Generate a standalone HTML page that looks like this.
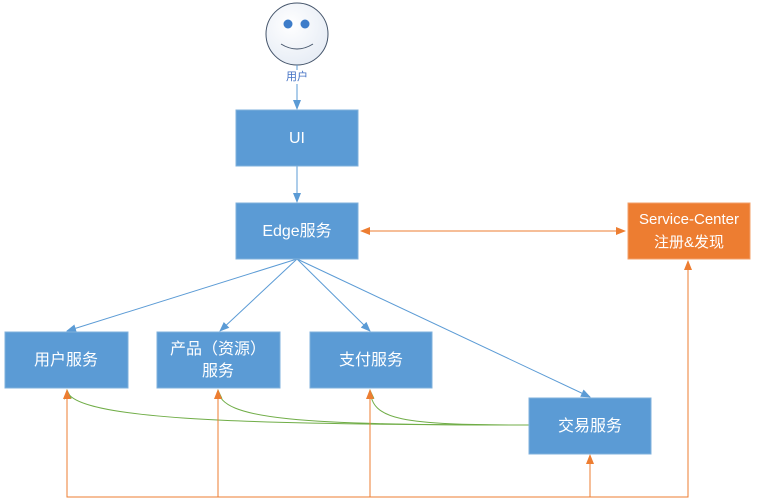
<!DOCTYPE html>
<html><head><meta charset="utf-8"><style>
body{margin:0;background:#fff;width:757px;height:499px;overflow:hidden;font-family:"Liberation Sans","Noto Sans CJK SC",sans-serif}
</style></head><body>
<svg width="757" height="499" xmlns="http://www.w3.org/2000/svg" style="position:absolute;left:0;top:0">
<defs>
<marker id="ab" markerWidth="10" markerHeight="8" refX="9" refY="4" orient="auto" markerUnits="userSpaceOnUse"><path d="M0,0L10,4L0,8z" fill="#5B9BD5"/></marker>
<marker id="ao" markerWidth="10" markerHeight="8" refX="9" refY="4" orient="auto" markerUnits="userSpaceOnUse"><path d="M0,0L10,4L0,8z" fill="#ED7D31"/></marker>
<marker id="aos" markerWidth="10" markerHeight="8" refX="1" refY="4" orient="auto" markerUnits="userSpaceOnUse"><path d="M10,0L0,4L10,8z" fill="#ED7D31"/></marker>
<marker id="ag" markerWidth="10" markerHeight="8" refX="9" refY="4" orient="auto" markerUnits="userSpaceOnUse"><path d="M0,0L10,4L0,8z" fill="#70AD47"/></marker>
<radialGradient id="face" cx="0.4" cy="0.35" r="0.7"><stop offset="0" stop-color="#fff"/><stop offset="1" stop-color="#e6ecf5"/></radialGradient>
</defs>
<circle cx="297" cy="34" r="31" fill="url(#face)" stroke="#44546A" stroke-width="1"/>
<circle cx="288" cy="24" r="4.5" fill="#3d7cc9"/>
<circle cx="305" cy="24" r="4.5" fill="#3d7cc9"/>
<path d="M281,44 Q297,54 313,44" fill="none" stroke="#44546A" stroke-width="1"/>
<text x="297" y="80" font-size="11" fill="#4472C4" text-anchor="middle">用户</text>
<line x1="297" y1="65" x2="297" y2="70" stroke="#5B9BD5"/>
<line x1="297" y1="84" x2="297" y2="109" stroke="#5B9BD5" marker-end="url(#ab)"/>
<line x1="297" y1="166" x2="297" y2="202" stroke="#5B9BD5" marker-end="url(#ab)"/>
<g stroke="#5B9BD5" fill="none">
<line x1="297" y1="259" x2="67" y2="331" marker-end="url(#ab)"/>
<line x1="297" y1="259" x2="220" y2="331" marker-end="url(#ab)"/>
<line x1="297" y1="259" x2="370" y2="331" marker-end="url(#ab)"/>
<line x1="297" y1="259" x2="590" y2="397" marker-end="url(#ab)"/>
</g>
<line x1="361" y1="231" x2="625" y2="231" stroke="#ED7D31" marker-start="url(#aos)" marker-end="url(#ao)"/>
<g stroke="#70AD47" fill="none">
<path d="M529,425 C250,425 70,420 67,390" marker-end="url(#ag)"/>
<path d="M529,425 C300,425 220,420 218,390" marker-end="url(#ag)"/>
<path d="M529,425 C400,425 372,420 370,390" marker-end="url(#ag)"/>
</g>
<g stroke="#ED7D31" fill="none">
<polyline points="67,390 67,497 688,497 688,261" marker-end="url(#ao)"/>
<line x1="67" y1="497" x2="67" y2="390" marker-end="url(#ao)"/>
<line x1="218" y1="497" x2="218" y2="390" marker-end="url(#ao)"/>
<line x1="370" y1="497" x2="370" y2="390" marker-end="url(#ao)"/>
<line x1="590" y1="497" x2="590" y2="455" marker-end="url(#ao)"/>
</g>
<g fill="#5B9BD5" stroke="#7fb0dc">
<rect x="236" y="110" width="122" height="56"/>
<rect x="236" y="203" width="122" height="56"/>
<rect x="5" y="332" width="123" height="56"/>
<rect x="157" y="332" width="123" height="56"/>
<rect x="310" y="332" width="122" height="56"/>
<rect x="529" y="398" width="122" height="56"/>
</g>
<rect x="628" y="203" width="122" height="56" fill="#ED7D31" stroke="#f3a06a"/>
<g fill="#fff" font-size="16" text-anchor="middle">
<text x="297" y="143">UI</text>
<text x="297" y="236">Edge服务</text>
<text x="66" y="365">用户服务</text>
<text x="218" y="354">产品（资源）</text>
<text x="218" y="376">服务</text>
<text x="371" y="365">支付服务</text>
<text x="590" y="431">交易服务</text>
<text x="689" y="224" font-size="15">Service-Center</text>
<text x="689" y="247" font-size="15">注册&amp;发现</text>
</g>
</svg>
</body></html>
